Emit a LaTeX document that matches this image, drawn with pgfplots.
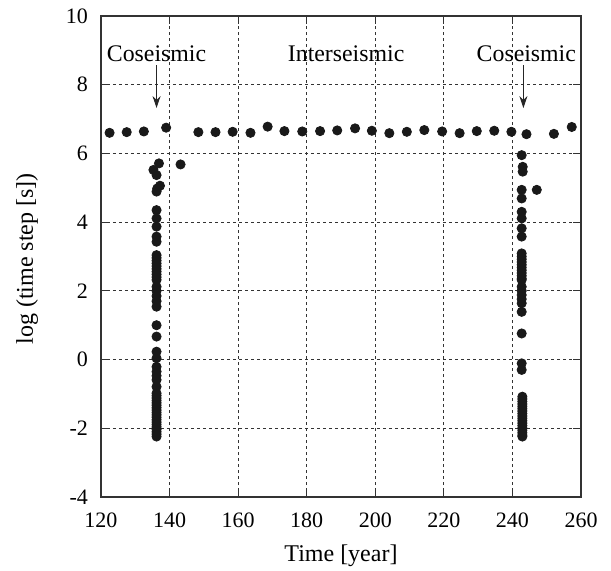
\documentclass[border=0pt]{standalone}
\usepackage{pgfplots}
\pgfplotsset{compat=1.18}
\usetikzlibrary{arrows.meta}
\usepackage{fontspec}
\setmainfont{Liberation Serif}
\begin{document}
\begin{tikzpicture}
\begin{axis}[
  scale only axis,
  width=240pt, height=240.5pt,
  xmin=120, xmax=260, ymin=-4, ymax=10,
  xtick={120,140,...,260},
  ytick={-4,-2,...,10},
  /pgf/number format/assume math mode=true,
  tick label style={font=\fontsize{11}{13}\selectfont},
  label style={font=\fontsize{12}{14}\selectfont},
  grid=major,
  major grid style={black!80, line width=0.5pt, dash pattern=on 1.5pt off 1.5pt},
  axis line style={black!80, line width=0.6pt},
  major tick length=4pt,
  tick style={black!80, line width=0.6pt},
  tick align=inside,
  xlabel={Time [year]},
  ylabel={log (time step [s])},
  xlabel style={at={(axis description cs:0.5,-0.1227)}, anchor=center},
  ylabel style={at={(axis description cs:-0.154,0.495)}, anchor=center, rotate=0},
  yticklabel style={xshift=-3pt},
  xticklabel style={yshift=-4.5pt},
  clip=false,
]
\addplot[only marks, mark=*, mark size=2.3pt, color=black!90] coordinates {
(122.5,6.60)(127.5,6.62)(132.5,6.64)(139.0,6.75)(148.4,6.62)(153.4,6.62)(158.4,6.63)(163.6,6.60)(168.6,6.78)(173.5,6.65)(178.7,6.64)(183.9,6.65)(188.9,6.67)(194.1,6.73)(199.0,6.66)(204.1,6.59)(209.2,6.63)(214.3,6.68)(219.5,6.64)(224.6,6.59)(229.6,6.65)(234.7,6.66)(239.7,6.63)(244.1,6.56)(252.1,6.57)(257.3,6.77)
(143.2,5.68)(247.1,4.94)
};
\addplot[only marks, mark=*, mark size=2.3pt, color=black!90] coordinates {
(136.9,5.71)(135.3,5.52)(136.2,5.37)(137.2,5.06)(136.4,4.98)(136.2,4.89)(136.2,4.35)(136.2,4.11)(136.2,3.87)(136.2,3.58)(136.2,3.43)
(136.2,3.04)(136.2,2.96)(136.2,2.88)(136.2,2.80)(136.2,2.72)(136.2,2.64)(136.2,2.56)(136.2,2.48)(136.2,2.40)(136.2,2.32)
(136.2,2.12)(136.2,2.00)(136.2,1.85)(136.2,1.70)(136.2,1.54)
(136.2,1.00)(136.2,0.67)(136.2,0.23)(136.2,0.04)(136.2,-0.21)(136.2,-0.35)(136.2,-0.47)(136.2,-0.59)(136.2,-0.79)
(136.2,-0.98)(136.2,-1.05)(136.2,-1.12)(136.2,-1.19)(136.2,-1.26)(136.2,-1.33)(136.2,-1.40)(136.2,-1.47)(136.2,-1.54)(136.2,-1.61)(136.2,-1.68)(136.2,-1.75)(136.2,-1.82)(136.2,-1.89)(136.2,-1.96)(136.2,-2.03)(136.2,-2.10)(136.2,-2.17)(136.2,-2.24)
};
\addplot[only marks, mark=*, mark size=2.3pt, color=black!90] coordinates {
(242.7,5.95)(243.0,5.61)(243.0,5.47)(242.7,4.94)(242.7,4.69)(242.7,4.30)(242.7,4.11)(242.7,3.82)(242.7,3.58)
(242.7,3.09)(242.7,3.00)(242.7,2.92)(242.7,2.84)(242.7,2.76)(242.7,2.68)(242.7,2.60)(242.7,2.52)(242.7,2.44)(242.7,2.36)(242.7,2.32)
(242.7,2.12)(242.7,2.00)(242.7,1.88)(242.7,1.76)(242.7,1.64)
(242.7,1.39)(242.7,0.76)(242.7,-0.11)(242.7,-0.30)
(242.9,-1.08)(242.9,-1.15)(242.9,-1.22)(242.9,-1.29)(242.9,-1.36)(242.9,-1.43)(242.9,-1.50)(242.9,-1.57)(242.9,-1.64)(242.9,-1.71)(242.9,-1.78)(242.9,-1.85)(242.9,-1.92)(242.9,-1.99)(242.9,-2.06)(242.9,-2.13)(242.9,-2.20)(242.9,-2.24)
};
\node[font=\fontsize{11.9}{14}\selectfont, anchor=base] at (axis cs:136.2,8.67) {Coseismic};
\node[font=\fontsize{11.9}{14}\selectfont, anchor=base] at (axis cs:191.5,8.67) {Interseismic};
\node[font=\fontsize{11.9}{14}\selectfont, anchor=base] at (axis cs:244.05,8.67) {Coseismic};
\draw[-{Stealth[length=6pt,width=4pt]}, black!85, line width=0.5pt] (axis cs:136.2,8.57) -- (axis cs:136.2,7.32);
\draw[-{Stealth[length=6pt,width=4pt]}, black!85, line width=0.5pt] (axis cs:243.2,8.57) -- (axis cs:243.2,7.32);
\end{axis}
\pgfresetboundingbox
\path (-50.5pt,-36.5pt) rectangle (255pt,248.5pt);
\end{tikzpicture}
\end{document}
